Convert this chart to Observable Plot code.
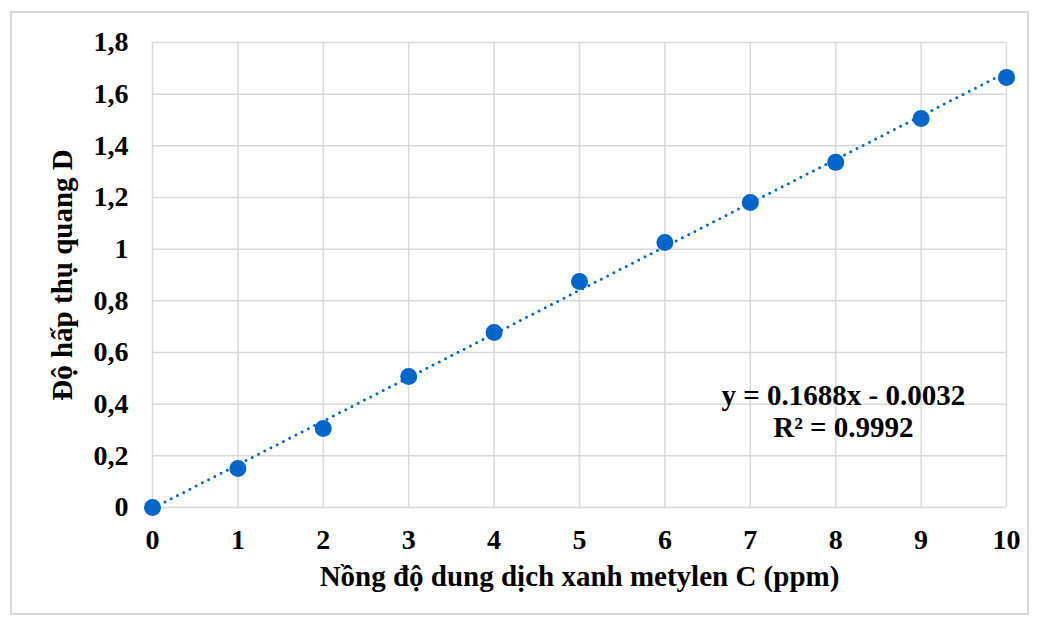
<!DOCTYPE html>
<html>
<head>
<meta charset="utf-8">
<script src="https://cdn.jsdelivr.net/npm/d3@7"></script>
<script src="https://cdn.jsdelivr.net/npm/@observablehq/plot@0.6"></script>
<style>
  html, body { margin: 0; padding: 0; background: #fff; }
  #wrap { position: relative; width: 1038px; height: 623px; }
  #frame { position: absolute; left: 10px; top: 11px; width: 1019px; height: 604px; border: 2px solid #d9d9d9; box-sizing: border-box; pointer-events: none; }
</style>
</head>
<body>
<div id="wrap"><div id="frame"></div></div>
<script>
const concentration = [0, 1, 2, 3, 4, 5, 6, 7, 8, 9, 10];
const absorbance = [0, 0.151, 0.306, 0.507, 0.677, 0.875, 1.026, 1.181, 1.336, 1.506, 1.665];
const slope = 0.1688;
const intercept = -0.0032;
const equationText = "y = 0.1688x - 0.0032";
const r2Text = "R² = 0.9992";
const xTicks = [0, 1, 2, 3, 4, 5, 6, 7, 8, 9, 10];
const yTicks = [0, 0.2, 0.4, 0.6, 0.8, 1, 1.2, 1.4, 1.6, 1.8];
const xLabel = "Nồng độ dung dịch xanh metylen C (ppm)";
const yLabel = "Độ hấp thụ quang D";

const points = concentration.map((c, i) => ({x: c, y: absorbance[i]}));
const trend = [0, 10].map(x => ({x, y: slope * x + intercept}));
const blue = "#0066cc";
const fmt = d => String(+d.toFixed(1)).replace(".", ",");

const chart = Plot.plot({
  width: 1038,
  height: 623,
  marginLeft: 152,
  marginRight: 32,
  marginTop: 42,
  marginBottom: 116,
  style: {fontFamily: "'Liberation Serif', 'Times New Roman', serif", fontWeight: "bold", fontSize: "28px", color: "#000", background: "transparent"},
  x: {domain: [0, 10]},
  y: {domain: [0, 1.8]},
  marks: [
    Plot.gridX(xTicks, {stroke: "#d9d9d9", strokeOpacity: 1, strokeWidth: 1.5}),
    Plot.gridY(yTicks, {stroke: "#d9d9d9", strokeOpacity: 1, strokeWidth: 1.5}),
    Plot.axisX(xTicks, {tickSize: 0, tickPadding: 22, tickFormat: d => String(d), label: null, fontSize: 28}),
    Plot.axisY(yTicks, {tickSize: 0, tickPadding: 24, tickFormat: fmt, label: null, fontSize: 28}),
    Plot.line(trend, {x: "x", y: "y", stroke: blue, strokeWidth: 3, strokeDasharray: "0 7", strokeLinecap: "round"}),
    Plot.dot(points, {x: "x", y: "y", r: 8.5, fill: blue, stroke: "none"}),
    Plot.text([equationText], {x: 8.09, y: 0.434, text: d => d, fontSize: 29, fill: "#000"}),
    Plot.text([r2Text], {x: 8.09, y: 0.307, text: d => d, fontSize: 29, fill: "#000"}),
    Plot.text([xLabel], {frameAnchor: "bottom", dy: 78, text: d => d, fontSize: 29, fill: "#000"}),
    Plot.text([yLabel], {frameAnchor: "left", textAnchor: "middle", dx: -90, rotate: -90, text: d => d, fontSize: 29, fill: "#000"})
  ]
});
chart.style.position = "absolute";
chart.style.left = "0";
chart.style.top = "0";
chart.style.overflow = "visible";
document.getElementById("wrap").appendChild(chart);
</script>
</body>
</html>
